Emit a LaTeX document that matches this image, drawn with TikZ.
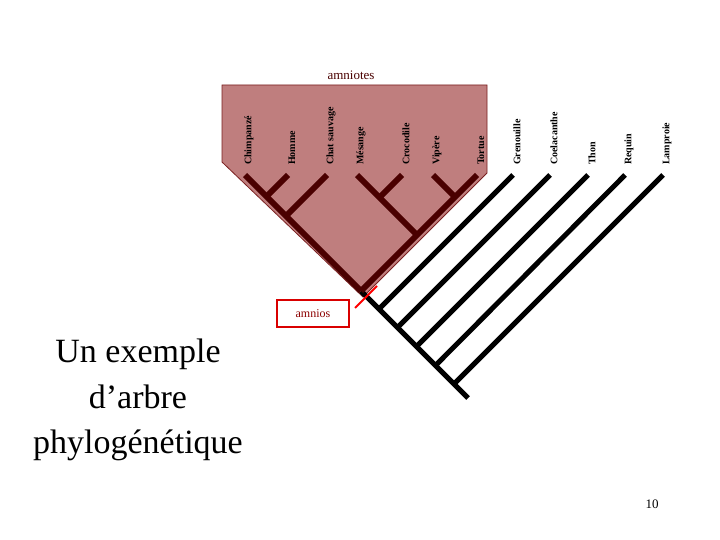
\documentclass[tikz,border=0pt]{standalone}
\usepackage{fontspec}
\setmainfont{Liberation Serif}
\begin{document}
\begin{tikzpicture}[x=1pt,y=-1pt,
  am/.style={line width=6pt,color=amline},
  ot/.style={line width=5pt,color=black},
  sp/.style={rotate=90,anchor=west,font=\bfseries\fontsize{10}{11}\selectfont,inner sep=0pt}]
\definecolor{amline}{HTML}{4A0000}
\definecolor{amfill}{HTML}{BF7E7E}
\definecolor{amedge}{HTML}{7A2020}
\useasboundingbox (0,0) rectangle (720,540);
\fill[white] (0,0) rectangle (720,540);
\filldraw[fill=amfill,draw=amedge,line width=0.8pt] (222,85) -- (487,85) -- (487,173) -- (363,297) -- (222,162) -- cycle;
\node[text=amline,font=\fontsize{13}{14}\selectfont] (amt) at (351,75) {amniotes};
% coordinates
\coordinate (chi) at (245,175); \coordinate (hom) at (288,175); \coordinate (cha) at (327,175);
\coordinate (mes) at (357,175); \coordinate (cro) at (402,175); \coordinate (vip) at (433,175);
\coordinate (tor) at (477,175);
\coordinate (gre) at (513,175); \coordinate (coe) at (550,175); \coordinate (tho) at (588,175);
\coordinate (req) at (625,175); \coordinate (lam) at (663,175);
\coordinate (n1) at (266.5,196.5); \coordinate (n2) at (286,216);
\coordinate (n3) at (379.5,197.5); \coordinate (n4) at (455,197); \coordinate (n5) at (417,235);
\coordinate (amn) at (361,291);
\coordinate (g1) at (379,309); \coordinate (g2) at (397.5,327.5); \coordinate (g3) at (416.5,346.5);
\coordinate (g4) at (435.5,365.5); \coordinate (g5) at (454,384); \coordinate (root) at (468,398);
% black part
\draw[ot] (amn) -- (root);
\draw[ot] (g1) -- (gre); \draw[ot] (g2) -- (coe); \draw[ot] (g3) -- (tho);
\draw[ot] (g4) -- (req); \draw[ot] (g5) -- (lam);
% amniote part
\draw[am] (chi) -- (amn);
\draw[am] (hom) -- (n1); \draw[am] (cha) -- (n2);
\draw[am] (mes) -- (n5); \draw[am] (cro) -- (n3);
\draw[am] (vip) -- (n4); \draw[am] (tor) -- (amn);
% labels
\foreach \p/\t in {chi/Chimpanzé,hom/Homme,cha/Chat sauvage,mes/Mésange,cro/Crocodile,vip/Vipère,tor/Tortue,gre/Grenouille,coe/Coelacanthe,tho/Thon,req/Requin,lam/Lamproie}
  \node[sp] (l\p) at ([xshift=4pt,yshift=10pt]\p) {\t};
% amnios
\node[draw=red!85!black,line width=2pt,text=red!55!black,minimum width=72pt,minimum height=27pt,font=\fontsize{12}{13}\selectfont] (amb) at (313,313.5) {amnios};
\coordinate (m1) at (355,308); \coordinate (m2) at (377,286);
\draw[red,line width=2pt] (m1) -- (m2);
% title
\node[align=center,font=\fontsize{34}{45.5}\selectfont] (tit) at (138,400) {Un exemple\\d’arbre\\phylogénétique};
\node[font=\fontsize{13}{14}\selectfont] (pg) at (652,504) {10};
\end{tikzpicture}
\end{document}
